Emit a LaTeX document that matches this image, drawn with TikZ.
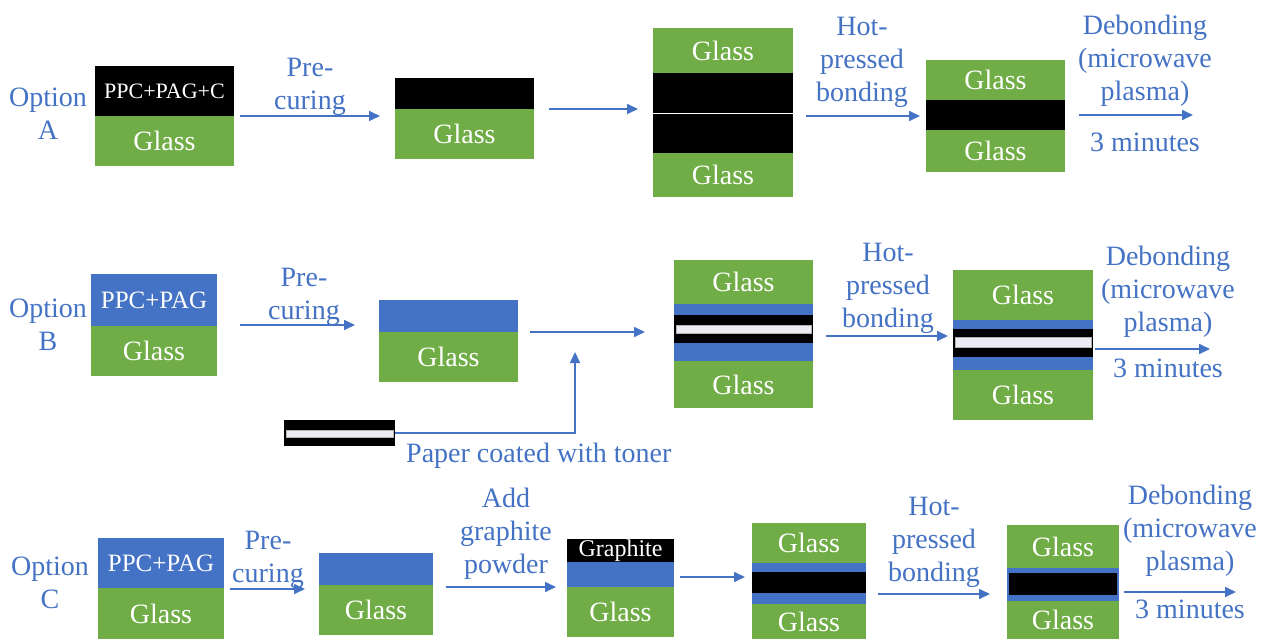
\documentclass[tikz,border=0pt]{standalone}
\usepackage{fontspec}
\setmainfont{Liberation Serif}
\usetikzlibrary{arrows.meta}
\definecolor{gl}{HTML}{70AD47}
\definecolor{bl}{HTML}{4472C4}
\definecolor{tb}{HTML}{4472C4}
\definecolor{strip}{RGB}{236,236,244}
\newcommand\lay[7]{\node[layer,#6,minimum width={#4-#2},minimum height={#5-#3}] (#1) at (#2,#3) {#7};}
\begin{document}
\begin{tikzpicture}[x=1pt,y=-1pt,
 layer/.style={inner sep=0pt,outer sep=0pt,anchor=north west,text=white,font=\fontsize{28}{30}\selectfont},
 glassbox/.style={fill=gl},
 blackbox/.style={fill=black},
 bluebox/.style={fill=bl},
 stripbox/.style={fill=strip,draw=gray!60,line width=0.5pt},
 lbl/.style={text=tb,align=center,font=\fontsize{28}{33}\selectfont,inner sep=0pt,yshift=-2pt},
 arr/.style={draw=tb,line width=1.6pt,-{Triangle[length=11pt,width=10pt]}}]
\fill[white] (0,0) rectangle (1266,639);
\useasboundingbox (0,0) rectangle (1266,639);

% ---------- Option A ----------
\node[lbl] (optA) at (48,114) {\strut Option\\\strut A};
\lay{a1t}{95}{66}{234}{116}{blackbox,font=\fontsize{22}{24}\selectfont}{PPC+PAG+C}
\lay{a1g}{95}{116}{234}{166}{glassbox}{Glass}
\lay{a2t}{395}{78}{534}{109}{blackbox}{}
\lay{a2g}{395}{109}{534}{159}{glassbox}{Glass}
\lay{a3g1}{653}{28}{793}{73}{glassbox}{Glass}
\lay{a3b1}{653}{73}{793}{113}{blackbox}{}
\lay{a3b2}{653}{114}{793}{153}{blackbox}{}
\lay{a3g2}{653}{153}{793}{197}{glassbox}{Glass}
\lay{a4g1}{926}{60}{1065}{100}{glassbox}{Glass}
\lay{a4b}{926}{100}{1065}{130}{blackbox}{}
\lay{a4g2}{926}{130}{1065}{172}{glassbox}{Glass}

\node[lbl] (lA1) at (310,84.5) {\strut Pre-\\\strut curing};
\node[lbl] (lA3) at (862,59.5) {\strut Hot-\\\strut pressed\\\strut bonding};
\node[lbl] (lA4) at (1145,58.5) {\strut Debonding\\\strut (microwave\\\strut plasma)};
\node[lbl] (tA4) at (1145,143) {\strut 3 minutes};

\coordinate (aA1s) at (240,116); \coordinate (aA1e) at (380,116);
\coordinate (aA2s) at (549,109); \coordinate (aA2e) at (638,109);
\coordinate (aA3s) at (806,116); \coordinate (aA3e) at (920,116);
\coordinate (aA4s) at (1079,115); \coordinate (aA4e) at (1193,115);
\draw[arr] (aA1s) -- (aA1e);
\draw[arr] (aA2s) -- (aA2e);
\draw[arr] (aA3s) -- (aA3e);
\draw[arr] (aA4s) -- (aA4e);

% ---------- Option B ----------
\node[lbl] (optB) at (48,325) {\strut Option\\\strut B};
\lay{b1t}{91}{274}{217}{326}{bluebox,font=\fontsize{25}{27}\selectfont}{PPC+PAG}
\lay{b1g}{91}{326}{217}{376}{glassbox}{Glass}
\lay{b2t}{379}{300}{518}{332}{bluebox}{}
\lay{b2g}{379}{332}{518}{382}{glassbox}{Glass}
\lay{pap}{284}{420}{395}{446}{blackbox}{}
\lay{paps}{286}{430}{393}{437}{stripbox}{}
\node[lbl,anchor=west] (ptxt) at (406,454) {Paper coated with toner};

\lay{b3g1}{674}{260}{813}{304}{glassbox}{Glass}
\lay{b3u1}{674}{304}{813}{315}{bluebox}{}
\lay{b3k}{674}{315}{813}{343}{blackbox}{}
\lay{b3s}{676}{325}{811}{333}{stripbox}{}
\lay{b3u2}{674}{343}{813}{361}{bluebox}{}
\lay{b3g2}{674}{361}{813}{408}{glassbox}{Glass}

\lay{b4g1}{953}{270}{1093}{320}{glassbox}{Glass}
\lay{b4u1}{953}{320}{1093}{329}{bluebox}{}
\lay{b4k}{953}{329}{1093}{357}{blackbox}{}
\lay{b4s}{955}{337}{1091}{347}{stripbox}{}
\lay{b4u2}{953}{357}{1093}{370}{bluebox}{}
\lay{b4g2}{953}{370}{1093}{420}{glassbox}{Glass}

\node[lbl] (lB1) at (304,294) {\strut Pre-\\\strut curing};
\node[lbl] (lB3) at (888,286) {\strut Hot-\\\strut pressed\\\strut bonding};
\node[lbl] (lB4) at (1168,290) {\strut Debonding\\\strut (microwave\\\strut plasma)};
\node[lbl] (tB4) at (1168,369) {\strut 3 minutes};

\coordinate (aB1s) at (240,325); \coordinate (aB1e) at (355,325);
\coordinate (aB2s) at (530,332); \coordinate (aB2e) at (645,332);
\coordinate (aPe) at (575,352);
\coordinate (aB3s) at (826,336); \coordinate (aB3e) at (948,336);
\coordinate (aB4s) at (1095,349); \coordinate (aB4e) at (1210,349);
\draw[arr] (aB1s) -- (aB1e);
\draw[arr] (aB2s) -- (aB2e);
\draw[arr] (pap.east) -| (aPe);
\draw[arr] (aB3s) -- (aB3e);
\draw[arr] (aB4s) -- (aB4e);

% ---------- Option C ----------
\node[lbl] (optC) at (50,583.5) {\strut Option\\\strut C};
\lay{c1t}{98}{538}{224}{588}{bluebox,font=\fontsize{25}{27}\selectfont}{PPC+PAG}
\lay{c1g}{98}{588}{224}{639}{glassbox}{Glass}
\lay{c2t}{319}{553}{433}{585}{bluebox}{}
\lay{c2g}{319}{585}{433}{635}{glassbox}{Glass}
\lay{c3k}{567}{539}{674}{562}{blackbox,font=\fontsize{24}{26}\selectfont}{Graphite}
\lay{c3u}{567}{562}{674}{587}{bluebox}{}
\lay{c3g}{567}{587}{674}{637}{glassbox}{Glass}

\lay{c4g1}{752}{523}{866}{563}{glassbox}{Glass}
\lay{c4u1}{752}{563}{866}{572}{bluebox}{}
\lay{c4k}{752}{572}{866}{593}{blackbox}{}
\lay{c4u2}{752}{593}{866}{604}{bluebox}{}
\lay{c4g2}{752}{604}{866}{639}{glassbox}{Glass}

\lay{c5g1}{1007}{525}{1119}{568}{glassbox}{Glass}
\lay{c5u}{1007}{568}{1119}{601}{bluebox}{}
\lay{c5k}{1009}{573}{1117}{595}{blackbox}{}
\lay{c5g2}{1007}{601}{1119}{639}{glassbox}{Glass}

\node[lbl] (lC1) at (268,557) {\strut Pre-\\\strut curing};
\node[lbl] (lC2) at (506,532) {\strut Add\\\strut graphite\\\strut powder};
\node[lbl] (lC4) at (934,540) {\strut Hot-\\\strut pressed\\\strut bonding};
\node[lbl] (lC5) at (1190,529) {\strut Debonding\\\strut (microwave\\\strut plasma)};
\node[lbl] (tC5) at (1190,610) {\strut 3 minutes};

\coordinate (aC1s) at (230,589); \coordinate (aC1e) at (305,589);
\coordinate (aC2s) at (446,587); \coordinate (aC2e) at (556,587);
\coordinate (aC3s) at (680,577); \coordinate (aC3e) at (745,577);
\coordinate (aC4s) at (878,594); \coordinate (aC4e) at (990,594);
\coordinate (aC5s) at (1124,592); \coordinate (aC5e) at (1236,592);
\draw[arr] (aC1s) -- (aC1e);
\draw[arr] (aC2s) -- (aC2e);
\draw[arr] (aC3s) -- (aC3e);
\draw[arr] (aC4s) -- (aC4e);
\draw[arr] (aC5s) -- (aC5e);
\end{tikzpicture}
\end{document}
